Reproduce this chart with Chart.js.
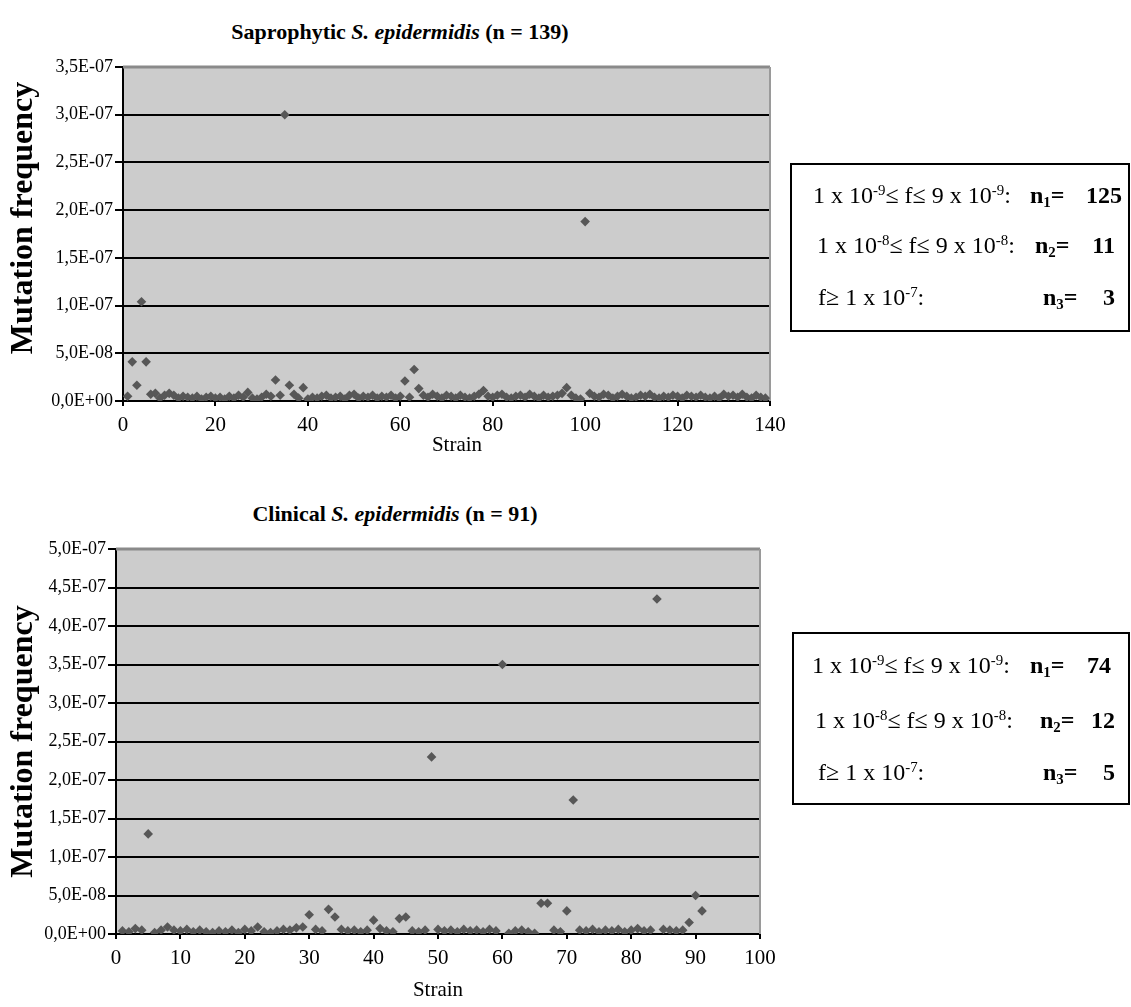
<!DOCTYPE html>
<html><head><meta charset="utf-8">
<script src="https://cdn.jsdelivr.net/npm/chart.js@4.4.1/dist/chart.umd.min.js"></script>
<style>
html,body{margin:0;padding:0;}
body{width:1131px;height:1007px;background:#fff;position:relative;overflow:hidden;font-family:'Liberation Serif','Times New Roman',serif;color:#000;}
canvas{position:absolute;left:0;}
.ttl{position:absolute;font-weight:bold;font-size:22px;white-space:nowrap;transform:translate(-50%,-50%);line-height:28px;}
.box{position:absolute;border:2px solid #000;box-sizing:border-box;}
.row{position:absolute;font-size:24px;line-height:28px;height:28px;white-space:nowrap;}
.row sup{font-size:0.62em;position:relative;top:-0.55em;vertical-align:baseline;line-height:0;}
.row sub{font-size:0.62em;position:relative;top:0.3em;vertical-align:baseline;line-height:0;font-weight:bold;}
.b{font-weight:bold;}
</style>
</head><body>
<div class="ttl" style="left:400px;top:32px;">Saprophytic <i>S. epidermidis</i> (n = 139)</div>
<div class="ttl" style="left:395px;top:514px;">Clinical <i>S. epidermidis</i> (n = 91)</div>
<canvas id="c1" width="800" height="460" style="top:0px;width:800px;height:460px;"></canvas>
<canvas id="c2" width="800" height="537" style="top:470px;width:800px;height:537px;"></canvas>

<div class="box" style="left:790px;top:163px;width:340px;height:169px;"></div>
<div class="row" style="left:813px;top:181px;">1 x 10<sup>-9</sup>≤ f≤ 9 x 10<sup>-9</sup>:</div>
<div class="row b" style="left:1030px;top:181px;">n<sub>1</sub>=</div>
<div class="row b" style="right:9px;top:181px;">125</div>
<div class="row" style="left:817px;top:231px;">1 x 10<sup>-8</sup>≤ f≤ 9 x 10<sup>-8</sup>:</div>
<div class="row b" style="left:1035px;top:231px;">n<sub>2</sub>=</div>
<div class="row b" style="right:16px;top:231px;">11</div>
<div class="row" style="left:818px;top:283px;">f≥ 1 x 10<sup>-7</sup>:</div>
<div class="row b" style="left:1043px;top:283px;">n<sub>3</sub>=</div>
<div class="row b" style="right:16px;top:283px;">3</div>

<div class="box" style="left:792px;top:632px;width:338px;height:173px;"></div>
<div class="row" style="left:812px;top:651px;">1 x 10<sup>-9</sup>≤ f≤ 9 x 10<sup>-9</sup>:</div>
<div class="row b" style="left:1030px;top:651px;">n<sub>1</sub>=</div>
<div class="row b" style="right:20px;top:651px;">74</div>
<div class="row" style="left:815px;top:706px;">1 x 10<sup>-8</sup>≤ f≤ 9 x 10<sup>-8</sup>:</div>
<div class="row b" style="left:1040px;top:706px;">n<sub>2</sub>=</div>
<div class="row b" style="right:16px;top:706px;">12</div>
<div class="row" style="left:818px;top:758px;">f≥ 1 x 10<sup>-7</sup>:</div>
<div class="row b" style="left:1043px;top:758px;">n<sub>3</sub>=</div>
<div class="row b" style="right:16px;top:758px;">5</div>

<script>
// ---- Data ----
const xAxisTitle = 'Strain';
const yAxisTitle = 'Mutation frequency';

// Saprophytic strains 1..139 mutation frequencies
const sapFreq = [
  5e-9, 4.1e-8, 1.65e-8, 1.04e-7, 4.1e-8, 7e-9, 8e-9, 3e-9, 6e-9, 8e-9,
  6e-9, 3e-9, 5e-9, 4e-9, 3e-9, 5e-9, 2e-9, 4e-9, 5e-9, 3e-9,
  4e-9, 2e-9, 5e-9, 3e-9, 6e-9, 4e-9, 9e-9, 3e-9, 2e-9, 4e-9,
  7e-9, 5e-9, 2.2e-8, 6e-9, 3.0e-7, 1.65e-8, 7e-9, 3e-9, 1.4e-8, 2e-9,
  4e-9, 3e-9, 5e-9, 6e-9, 3e-9, 4e-9, 5e-9, 2e-9, 6e-9, 7e-9,
  3e-9, 5e-9, 4e-9, 6e-9, 3e-9, 5e-9, 4e-9, 6e-9, 3e-9, 5e-9,
  2.1e-8, 4e-9, 3.3e-8, 1.3e-8, 6e-9, 4e-9, 7e-9, 5e-9, 3e-9, 6e-9,
  5e-9, 3e-9, 6e-9, 4e-9, 3e-9, 5e-9, 7e-9, 1.1e-8, 5e-9, 4e-9,
  6e-9, 7e-9, 4e-9, 3e-9, 5e-9, 6e-9, 4e-9, 7e-9, 5e-9, 3e-9,
  6e-9, 4e-9, 5e-9, 6e-9, 8e-9, 1.4e-8, 6e-9, 3e-9, 2e-9, 1.88e-7,
  8e-9, 5e-9, 4e-9, 7e-9, 6e-9, 3e-9, 5e-9, 7e-9, 5e-9, 3e-9,
  4e-9, 6e-9, 5e-9, 7e-9, 4e-9, 3e-9, 5e-9, 4e-9, 6e-9, 5e-9,
  3e-9, 6e-9, 5e-9, 4e-9, 6e-9, 4e-9, 3e-9, 5e-9, 3e-9, 7e-9,
  5e-9, 6e-9, 4e-9, 7e-9, 4e-9, 3e-9, 6e-9, 4e-9, 3e-9
];

// Clinical strains 1..91 mutation frequencies
const cliFreq = [
  4e-9, 3e-9, 7e-9, 5e-9, 1.3e-7, 2e-9, 5e-9, 9e-9, 5e-9, 4e-9,
  6e-9, 3e-9, 5e-9, 3e-9, 2e-9, 4e-9, 3e-9, 5e-9, 2e-9, 6e-9,
  4e-9, 9e-9, 3e-9, 2e-9, 4e-9, 6e-9, 5e-9, 8e-9, 9e-9, 2.5e-8,
  6e-9, 4e-9, 3.2e-8, 2.2e-8, 6e-9, 4e-9, 5e-9, 3e-9, 5e-9, 1.8e-8,
  7e-9, 4e-9, 3e-9, 2.0e-8, 2.2e-8, 4e-9, 3e-9, 5e-9, 2.3e-7, 6e-9,
  4e-9, 5e-9, 3e-9, 6e-9, 4e-9, 5e-9, 3e-9, 6e-9, 4e-9, 3.5e-7,
  1e-9, 4e-9, 5e-9, 3e-9, 1e-9, 4.0e-8, 4.0e-8, 5e-9, 3e-9, 3.0e-8,
  1.74e-7, 5e-9, 4e-9, 6e-9, 3e-9, 5e-9, 4e-9, 6e-9, 3e-9, 5e-9,
  7e-9, 4e-9, 5e-9, 4.35e-7, 6e-9, 5e-9, 4e-9, 5e-9, 1.5e-8, 5.0e-8,
  3.0e-8
];

// Axis ranges
const sapXMax = 140, sapXStep = 20, sapYMax = 3.5e-7;
const cliXMax = 100, cliXStep = 10, cliYMax = 5.0e-7;
const yStep = 5e-8;

// ---- Helpers ----
function fmtE(v){
  if (Math.abs(v) < 1e-15) return '0,0E+00';
  const s = v.toExponential(1);
  const parts = s.split('e');
  const n = parseInt(parts[1],10);
  return parts[0].replace('.',',') + 'E' + (n<0?'-':'+') + String(Math.abs(n)).padStart(2,'0');
}

const plotDeco = {
  id:'plotDeco',
  beforeDraw(chart){
    const {ctx, chartArea:{left,top,right,bottom}} = chart;
    ctx.save();
    ctx.fillStyle = '#cccccc';
    ctx.fillRect(left, top, right-left, bottom-top);
    ctx.restore();
  },
  beforeDatasetsDraw(chart){
    const {ctx, chartArea:{left,top,right,bottom}} = chart;
    ctx.save();
    ctx.strokeStyle = '#8a8a8a';
    ctx.lineWidth = 3;
    ctx.beginPath(); ctx.moveTo(left, top); ctx.lineTo(right, top); ctx.stroke();
    ctx.strokeStyle = '#9a9a9a';
    ctx.lineWidth = 2;
    ctx.beginPath(); ctx.moveTo(right, top); ctx.lineTo(right, bottom); ctx.stroke();
    ctx.restore();
  }
};

Chart.defaults.font.family = "'Liberation Serif', 'Times New Roman', serif";
Chart.defaults.color = '#000';

function makeChart(id, freq, xMax, xStep, yMax, cfg){
  const pts = freq.map((v,i)=>({x:i+1, y:v}));
  return new Chart(document.getElementById(id), {
    type:'scatter',
    data:{datasets:[{
      data:pts,
      pointStyle:'rectRot',
      pointRadius:4.8,
      pointHoverRadius:4.8,
      backgroundColor:'#575757',
      borderColor:'#575757',
      borderWidth:0,
      showLine:false
    }]},
    options:{
      responsive:false,
      animation:false,
      events:[],
      layout:{padding:{top:cfg.padTop, right:cfg.padRight, left:0, bottom:0}},
      plugins:{legend:{display:false}, tooltip:{enabled:false}},
      scales:{
        x:{
          type:'linear', min:0, max:xMax,
          ticks:{stepSize:xStep, font:{size:21}, padding:cfg.xTickPad, maxRotation:0, color:'#000'},
          grid:{display:true, drawOnChartArea:false, drawTicks:true, tickLength:5, color:'#000', lineWidth:2},
          border:{display:true, color:'#000', width:2},
          title:{display:true, text:cfg.xTitle, font:{size:21}, color:'#000', padding:{top:0,bottom:cfg.xTitlePadBottom}},
          afterFit(s){ s.height = cfg.xHeight; }
        },
        y:{
          type:'linear', min:0, max:yMax,
          ticks:{stepSize:yStep, font:{size:18}, padding:2, color:'#000', callback:(v)=>fmtE(v)},
          grid:{
            display:true, drawOnChartArea:true, drawTicks:true, tickLength:8, lineWidth:2,
            color:(c)=> (c.tick && c.tick.value >= yMax*0.999) ? '#8a8a8a' : '#000',
            tickColor:'#000'
          },
          border:{display:true, color:'#000', width:2},
          title:{display:true, text:cfg.yTitle, font:{size:32, weight:'bold'}, color:'#000', padding:{top:cfg.yTitlePadTop,bottom:0}},
          afterFit(s){ s.width = cfg.yWidth; }
        }
      }
    },
    plugins:[plotDeco]
  });
}

makeChart('c1', sapFreq, sapXMax, sapXStep, sapYMax, {
  padTop:67, padRight:30, xHeight:59, yWidth:123, xTickPad:7, xTitlePadBottom:2,
  yTitlePadTop:5, xTitle:'    ' + xAxisTitle, yTitle:'    ' + yAxisTitle
});
makeChart('c2', cliFreq, cliXMax, cliXStep, cliYMax, {
  padTop:79, padRight:40, xHeight:73, yWidth:116, xTickPad:7, xTitlePadBottom:4,
  yTitlePadTop:5, xTitle:xAxisTitle, yTitle:yAxisTitle
});
</script>
</body></html>
